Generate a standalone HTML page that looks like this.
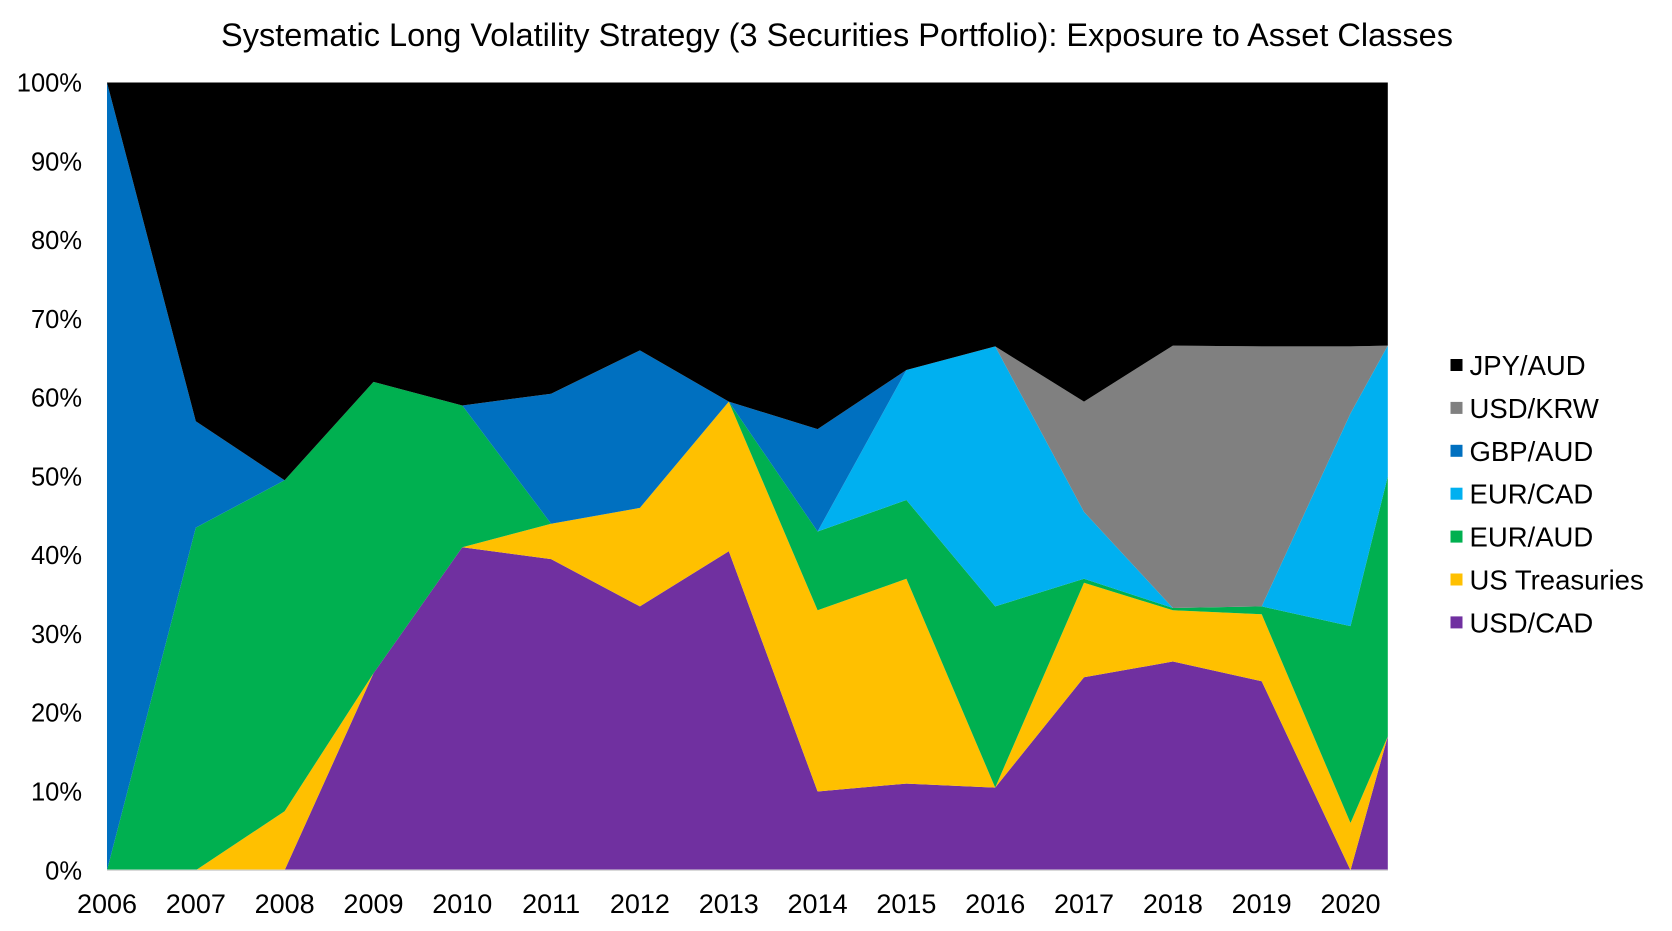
<!DOCTYPE html>
<html><head><meta charset="utf-8"><style>
body{margin:0;background:#fff;font-family:"Liberation Sans",Arial,sans-serif;}
svg{display:block}
</style></head><body>
<svg id="chart" width="1672" height="931" xmlns="http://www.w3.org/2000/svg">
<text x="837" y="46" text-anchor="middle" font-size="32.5" font-family="Liberation Sans, Arial, sans-serif">Systematic Long Volatility Strategy (3 Securities Portfolio): Exposure to Asset Classes</text>
<g id="areas"></g><g id="axes"></g><g id="legend"></g>
</svg>
<script>
const xPos = [0,1,2,3,4,5,6,7,8,9,10,11,12,13,14,14.42];
const xTickLabels = ["2006","2007","2008","2009","2010","2011","2012","2013","2014","2015","2016","2017","2018","2019","2020"];
const yTicks = [0,10,20,30,40,50,60,70,80,90,100];
const seriesNames = ["USD/CAD","US Treasuries","EUR/AUD","EUR/CAD","GBP/AUD","USD/KRW","JPY/AUD"];
const seriesColors = ["#7030a0","#ffc000","#00b050","#00b0f0","#0070c0","#808080","#000000"];
const usdCad = [0,0,0,25,41,39.5,33.5,40.5,10,11,10.5,24.5,26.5,24,0,17];
const usTreasuries = [0,0,7.5,0,0,4.5,12.5,19,23,26,0,12,6.5,8.5,6,0];
const eurAud = [0,43.5,42,37,18,0,0,0,10,10,23,0.5,0.3,1,25,33];
const eurCad = [0,0,0,0,0,0,0,0,0,16.5,33,8.5,0,0,27,16.6];
const gbpAud = [100,13.5,0,0,0,16.5,20,0,13,0,0,0,0,0,0,0];
const usdKrw = [0,0,0,0,0,0,0,0,0,0,0,14,33.3,33,8.5,0];
const jpyAud = [0,43,50.5,38,41,39.5,34,40.5,44,36.5,33.5,40.5,33.4,33.5,33.5,33.4];
const series = [usdCad,usTreasuries,eurAud,eurCad,gbpAud,usdKrw,jpyAud];

const L=107,T=82.5,B=870.3,step=(1350.5-107)/14;
const xs=v=>L+v*step;
const R=xs(14.42);
const ys=v=>B-(v/100)*(B-T);
const NS="http://www.w3.org/2000/svg";
const areas=document.getElementById('areas');
let base=xPos.map(()=>0);
series.forEach((s,i)=>{
  const top=base.map((b,j)=>b+s[j]);
  const pts=[];
  xPos.forEach((x,j)=>pts.push(xs(x).toFixed(1)+","+ys(Math.min(top[j],100)).toFixed(1)));
  for(let j=xPos.length-1;j>=0;j--) pts.push(xs(xPos[j]).toFixed(1)+","+ys(base[j]).toFixed(1));
  const p=document.createElementNS(NS,'polygon');
  p.setAttribute('points',pts.join(' '));
  p.setAttribute('fill',seriesColors[i]);
  
  
  areas.appendChild(p);
  base=top;
});
const axes=document.getElementById('axes');
yTicks.forEach(v=>{
  const t=document.createElementNS(NS,'text');
  t.setAttribute('x',82);t.setAttribute('y',ys(v)+9);
  t.setAttribute('text-anchor','end');t.setAttribute('font-size','25.5');
  t.textContent=v+'%';
  
  
  axes.appendChild(t);
});
xTickLabels.forEach((lab,i)=>{
  const t=document.createElementNS(NS,'text');
  t.setAttribute('x',xs(i));t.setAttribute('y',913);
  t.setAttribute('text-anchor','middle');t.setAttribute('font-size','27');
  t.textContent=lab;
  
  
  axes.appendChild(t);
});
const ax=document.createElementNS(NS,'line');
ax.setAttribute('x1',L);ax.setAttribute('x2',R);ax.setAttribute('y1',B);ax.setAttribute('y2',B);
ax.setAttribute('stroke','#d9d9d9');ax.setAttribute('stroke-width','1.5');


axes.appendChild(ax);
const legend=document.getElementById('legend');
for(let k=0;k<7;k++){
  const i=6-k;const y=366+k*42.9;
  const g=document.createElementNS(NS,'g');
  
  
  const r=document.createElementNS(NS,'rect');
  r.setAttribute('x',1450.5);r.setAttribute('y',y-7);r.setAttribute('width',12);r.setAttribute('height',12);
  r.setAttribute('fill',seriesColors[i]);
  g.appendChild(r);
  const t=document.createElementNS(NS,'text');
  t.setAttribute('x',1469.5);t.setAttribute('y',y+9);t.setAttribute('font-size','27.5');
  t.textContent=seriesNames[i];
  g.appendChild(t);
  legend.appendChild(g);
}
</script>
</body></html>
